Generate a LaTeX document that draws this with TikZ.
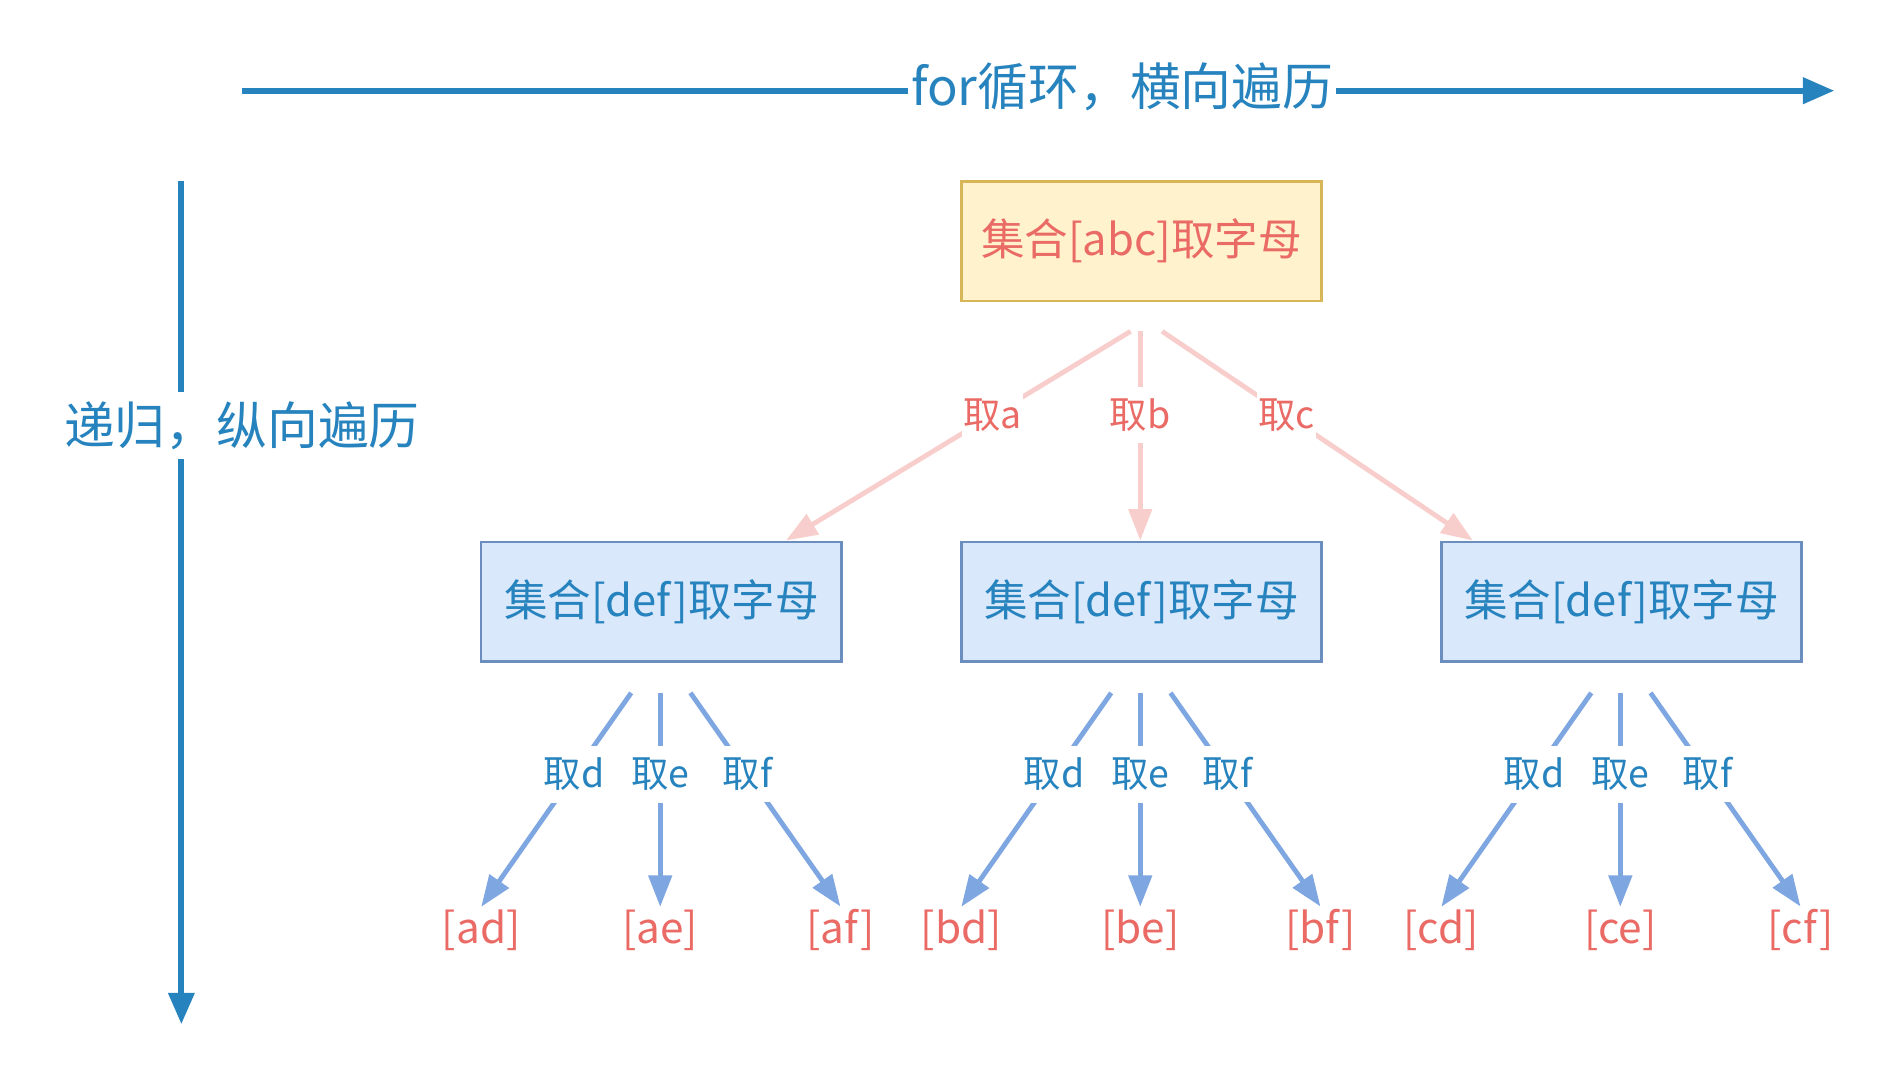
\documentclass[tikz,border=0pt]{standalone}
\usepackage{fontspec}
\setmainfont{Noto Sans CJK SC}
\usetikzlibrary{positioning,calc,arrows.meta}
\definecolor{axisblue}{HTML}{2683BE}
\definecolor{textred}{HTML}{EA6B66}
\definecolor{pinkline}{HTML}{F8CECC}
\definecolor{edgeblue}{HTML}{7EA6E0}
\definecolor{yellowfill}{HTML}{FFF2CC}
\definecolor{yellowdraw}{HTML}{D6B656}
\definecolor{bluefill}{HTML}{DAE8FC}
\definecolor{bluedraw}{HTML}{6C8EBF}
\tikzstyle{axis} = [draw=axisblue, line width=5pt, -{Triangle[length=26pt, width=21pt]}]
\tikzstyle{axislabel} = [fill=white, text=axisblue, inner xsep=2.5pt, inner ysep=0pt,
minimum height=55pt, font=\fontsize{42}{48}\selectfont]
\tikzstyle{rootbox} = [draw=yellowdraw, fill=yellowfill, line width=2pt, text=textred,
minimum width=298pt, minimum height=99pt, font=\fontsize{36}{42}\selectfont]
\tikzstyle{setbox} = [rootbox, draw=bluedraw, fill=bluefill, text=axisblue]
\tikzstyle{pinkedge} = [draw=pinkline, line width=4pt, -{Triangle[length=26pt, width=19pt]}]
\tikzstyle{blueedge} = [pinkedge, draw=edgeblue]
\tikzstyle{pick} = [fill=white, inner xsep=1pt, inner ysep=0pt, minimum height=47pt,
font=\fontsize{31}{36}\selectfont]
\tikzstyle{leaf} = [text=textred, inner sep=2pt, font=\fontsize{35}{40}\selectfont]

\begin{document}
\begin{tikzpicture}[x=1pt, y=-1pt]
    \useasboundingbox (0,0) rectangle (1568,898);
    % the two directions
    \coordinate (hstart) at (200,75);
    \coordinate (hend) at (1517,75);
    \draw[axis] (hstart) -- (hend);
    \node[axislabel] (hlabel) at (928,72) {for循环，横向遍历};
    \coordinate (vstart) at (150,150);
    \coordinate (vend) at (150,847);
    \draw[axis] (vstart) -- (vend);
    \node[axislabel] (vlabel) at (200,352) {递归，纵向遍历};

    % first level
    \node[rootbox] (root) at (944,199.5) {集合[abc]取字母};
    \node[setbox] (ca) at (547,497.5) {集合[def]取字母};
    \node[setbox, right=97pt of ca] (cb) {集合[def]取字母};
    \node[setbox, right=97pt of cb] (cc) {集合[def]取字母};

    \coordinate (ra) at ($(root.south)+(-9,24)$);
    \coordinate (rb) at ($(root.south)+(-1,24)$);
    \coordinate (rc) at ($(root.south)+(17,24)$);
    \coordinate (ta) at ($(ca.north)+(103,0)$);
    \coordinate (tb) at ($(cb.north)+(-1,0)$);
    \coordinate (tc) at ($(cc.north)+(-123,0)$);
    \draw[pinkedge] (ra) -- node[pick, text=textred, pos=0.4] (pa) {取a} (ta);
    \draw[pinkedge] (rb) -- node[pick, text=textred, pos=0.4] (pb) {取b} (tb);
    \draw[pinkedge] (rc) -- node[pick, text=textred, pos=0.4] (pc) {取c} (tc);

    % second level
    \foreach \cn/\q in {ca/a, cb/b, cc/c} {
        \coordinate (\cn d0) at ($(\cn.south)+(-25,25)$);
        \coordinate (\cn e0) at ($(\cn.south)+(-1,25)$);
        \coordinate (\cn f0) at ($(\cn.south)+(24,25)$);
        \node[leaf] (\q d) at ($(\cn.south)+(-149,221)$) {[\q d]};
        \node[leaf] (\q e) at ($(\cn.south)+(-1,221)$) {[\q e]};
        \node[leaf] (\q f) at ($(\cn.south)+(148,221)$) {[\q f]};
        \draw[blueedge] (\cn d0) -- node[pick, text=axisblue, pos=0.38] (\cn dl) {取d} (\q d.north);
        \draw[blueedge] (\cn e0) -- node[pick, text=axisblue, pos=0.38] (\cn el) {取e} (\q e.north);
        \draw[blueedge] (\cn f0) -- node[pick, text=axisblue, pos=0.38] (\cn fl) {取f} (\q f.north);
    }
\end{tikzpicture}
\end{document}
